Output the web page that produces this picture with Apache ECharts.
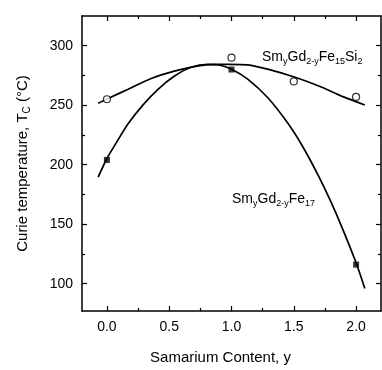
<!DOCTYPE html>
<html><head><meta charset="utf-8">
<script src="https://cdn.jsdelivr.net/npm/echarts@6/dist/echarts.min.js"></script>
<style>html,body{margin:0;padding:0;background:#fff}#c{width:382px;height:370px}</style>
</head><body><div id="c"></div>
<script>
// Data
var siX = [0.0, 1.0, 1.5, 2.0];
var siY = [255, 290, 270, 257];
var feX = [0.0, 1.0, 2.0];
var feY = [204, 280, 116];
// fitted curves as drawn in the figure (traced)
var siCurveX = [-0.07, 0.0, 0.17, 0.36, 0.54, 0.70, 0.86, 0.98, 1.13, 1.29, 1.51, 1.72, 1.90, 2.07];
var siCurveY = [251.6, 255.2, 263.4, 272.7, 278.7, 282.5, 284.4, 284.4, 283.9, 280.3, 273.5, 265.3, 257, 250.2];
var feCurveX = [-0.07, 0.0, 0.07, 0.17, 0.29, 0.41, 0.54, 0.67, 0.81, 0.90, 1.0, 1.13, 1.29, 1.45, 1.57, 1.70, 1.80, 1.89, 2.0, 2.07];
var feCurveY = [189.6, 205.2, 217.5, 234.4, 250.3, 263.4, 274.3, 281.7, 284.4, 283.8, 280.3, 272, 256.5, 235.2, 215.5, 190.2, 168.3, 146.5, 117.5, 95.9];
var xMajor = [0, 0.5, 1.0, 1.5, 2.0];
var xMinor = [0.25, 0.75, 1.25, 1.75];
var yMajor = [100, 150, 200, 250, 300];
var yMinor = [125, 175, 225, 275];

var font = 'Liberation Sans, Arial, sans-serif';
var chart = echarts.init(document.getElementById('c'));
function pairs(xs, ys){ return xs.map(function(x,i){return [x, ys[i]];}); }
function mkAxis(kind, pos, vals, len, showLabel, showLine){
  return {
    type:'value', position:pos, min: kind==='x'?-0.2:77, max: kind==='x'?2.2:325,
    axisLine:{show:showLine, onZero:false, lineStyle:{color:'#000', width:1.5}},
    axisTick:{show:true, inside:true, length:len, customValues:vals, lineStyle:{color:'#000', width:1.2}},
    axisLabel:{show:showLabel, customValues:vals, color:'#000', fontFamily:font, fontSize:14, margin:9,
      formatter: function(v){ return kind==='x' ? v.toFixed(1) : String(v); }},
    splitLine:{show:false}
  };
}
var xAxes = [
  mkAxis('x','bottom',xMajor,5,true,true),
  mkAxis('x','bottom',xMinor,3,false,false),
  mkAxis('x','top',xMajor,5,false,true),
  mkAxis('x','top',xMinor,3,false,false)
];
var yAxes = [
  mkAxis('y','left',yMajor,5,true,true),
  mkAxis('y','left',yMinor,3,false,false),
  mkAxis('y','right',yMajor,5,false,true),
  mkAxis('y','right',yMinor,3,false,false)
];
yAxes[0].name = 'Curie temperature, T{s|C} (°C)';
yAxes[0].nameLocation = 'middle';
yAxes[0].nameGap = 50;
yAxes[0].nameTextStyle = {color:'#000', fontFamily:font, fontSize:15, rich:{s:{fontSize:10, fontFamily:font, color:'#000', padding:[8,0,0,0]}}};
xAxes[0].name = 'Samarium Content, y';
xAxes[0].nameLocation = 'middle';
xAxes[0].nameGap = 39;
xAxes[0].nameTextStyle = {color:'#000', fontFamily:font, fontSize:15, padding:[0,22,0,0]};

var sub = {fontSize:9, fontFamily:font, color:'#000', padding:[9,0,0,0]};
chart.setOption({
  animation:false,
  grid:{left:82, top:16, width:299, height:301, containLabel:false},
  xAxis: xAxes,
  yAxis: yAxes,
  graphic:[
    {type:'text', left:262, top:50, style:{text:'Sm{s|y}Gd{s|2-y}Fe{s|15}Si{s|2}', font:'14px '+font, fill:'#000', rich:{s:sub}}},
    {type:'text', left:232, top:192, style:{text:'Sm{s|y}Gd{s|2-y}Fe{s|17}', font:'14px '+font, fill:'#000', rich:{s:sub}}}
  ],
  series:[
    {type:'line', data:pairs(siCurveX, siCurveY), smooth:0.3, showSymbol:false, lineStyle:{color:'#000', width:1.7}, z:2},
    {type:'line', data:pairs(feCurveX, feCurveY), smooth:0.3, showSymbol:false, lineStyle:{color:'#000', width:1.7}, z:2},
    {type:'scatter', data:pairs(siX, siY), symbol:'circle', symbolSize:7, itemStyle:{color:'#fff', borderColor:'#000', borderWidth:1.2}, z:3},
    {type:'scatter', data:pairs(feX, feY), symbol:'rect', symbolSize:6, itemStyle:{color:'#000'}, z:3}
  ]
});
</script></body></html>
